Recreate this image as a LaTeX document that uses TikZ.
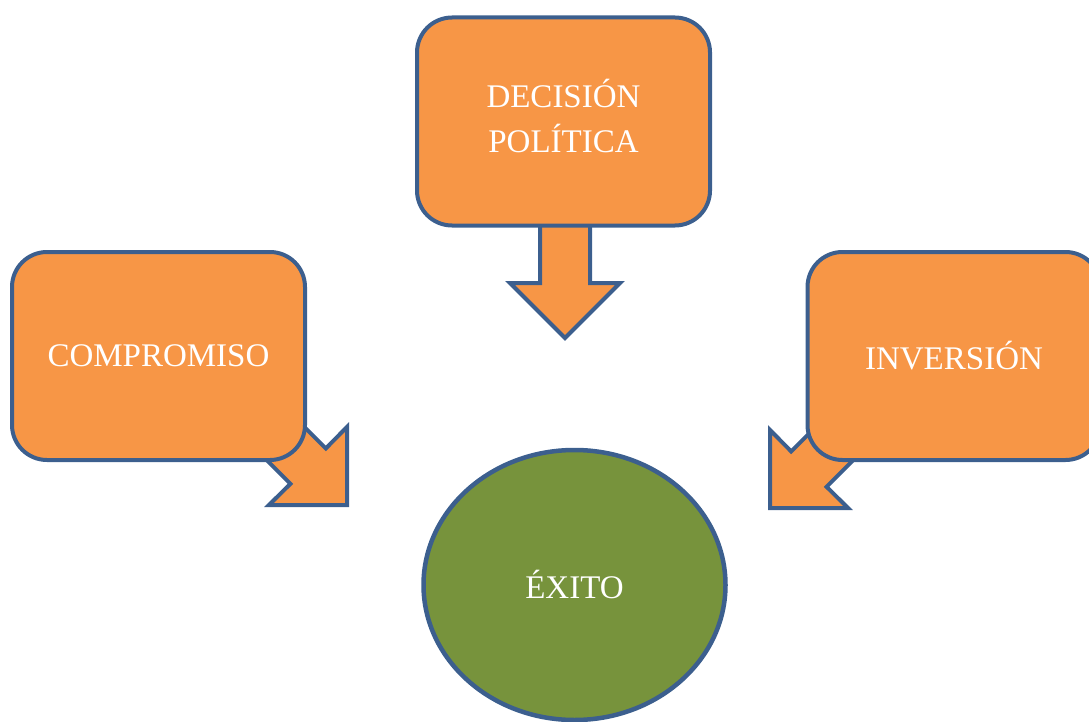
\documentclass[tikz,border=0pt]{standalone}
\usepackage{fontspec}
\setmainfont{Liberation Serif}
\usetikzlibrary{shapes.geometric}
\definecolor{boxorange}{HTML}{F79646}
\definecolor{edgeblue}{HTML}{3C5F8E}
\definecolor{okgreen}{HTML}{77933C}
\tikzset{
  orangebox/.style={draw=edgeblue, line width=4pt, fill=boxorange, rounded corners=35pt,
    minimum width=293pt, minimum height=208pt, text=white, align=center,
    font=\fontsize{33}{45}\selectfont},
  blockarrow/.style={draw=edgeblue, line width=4pt, fill=boxorange, line join=miter},
  goalellipse/.style={ellipse, draw=edgeblue, line width=4.5pt, fill=okgreen,
    minimum width=302pt, minimum height=270pt, text=white,
    font=\fontsize{33}{45}\selectfont}
}
\begin{document}
\begin{tikzpicture}[x=1pt,y=-1pt]
\useasboundingbox (0,0) rectangle (1089,722);
\begin{scope}
\clip (0,0) rectangle (1089,722);
% block arrows (behind boxes)
\draw[blockarrow] (540,210) -- (540,283) -- (510,283) -- (565,338) -- (620,283) -- (590,283) -- (590,210) -- cycle;
\draw[blockarrow] (251.7,374.3) -- (325.8,448.4) -- (347,427) -- (347,505) -- (269,505) -- (290.4,483.8) -- (216.3,409.7) -- cycle;
\draw[blockarrow] (900.7,412.7) -- (826.6,486.8) -- (848,508) -- (770,508) -- (770,430) -- (791.2,451.4) -- (865.3,377.3) -- cycle;
% boxes
\node[orangebox] (dec) at (563.5,121.5) {\raisebox{7pt}{\begin{tabular}{@{}c@{}}DECISIÓN\\POLÍTICA\end{tabular}}};
\node[orangebox] (comp) at (158.5,356) {COMPROMISO};
\node[orangebox] (inv) at (954,356) {INVERSIÓN};
\node[goalellipse] (exito) at (574.5,585) {\raisebox{2pt}{ÉXITO}};
\end{scope}
\end{tikzpicture}
\end{document}
